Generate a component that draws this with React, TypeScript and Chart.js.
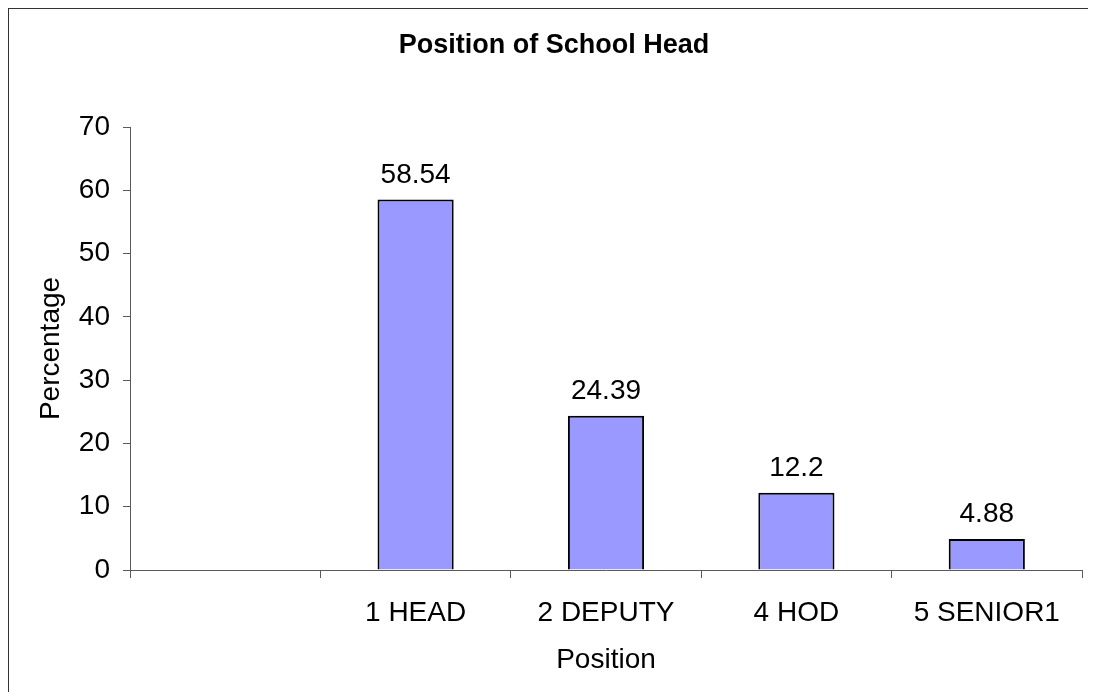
import React, { useEffect, useRef } from "react";
import { Chart, registerables } from "chart.js";

Chart.register(...registerables);

const categories: string[] = ["", "1 HEAD", "2 DEPUTY", "4 HOD", "5 SENIOR1"];
const percentages: (number | null)[] = [null, 58.54, 24.39, 12.2, 4.88];
const valueLabels: string[] = ["", "58.54", "24.39", "12.2", "4.88"];
const chartTitle = "Position of School Head";
const xTitle = "Position";
const yTitle = "Percentage";

const FONT = "'Liberation Sans', Arial, sans-serif";
const AXIS_COLOR = "#5a5a5a";
const TEXT_SIZE = 28;

const titlePlugin = {
  id: "customTitle",
  afterDraw(chart: any) {
    const ctx = chart.ctx;
    ctx.save();
    ctx.font = `bold 27px ${FONT}`;
    ctx.fillStyle = "#000";
    ctx.textAlign = "center";
    ctx.textBaseline = "alphabetic";
    ctx.fillText(chartTitle, 545, 43.5);
    ctx.restore();
  },
};

const valueLabelPlugin = {
  id: "valueLabels",
  afterDatasetsDraw(chart: any) {
    const ctx = chart.ctx;
    const meta = chart.getDatasetMeta(0);
    ctx.save();
    ctx.font = `${TEXT_SIZE}px ${FONT}`;
    ctx.fillStyle = "#000";
    ctx.textAlign = "center";
    ctx.textBaseline = "alphabetic";
    meta.data.forEach((bar: any, i: number) => {
      if (percentages[i] == null) return;
      ctx.fillText(valueLabels[i], bar.x, bar.y - 17);
    });
    ctx.restore();
  },
};

export default function App() {
  const canvasRef = useRef<HTMLCanvasElement | null>(null);

  useEffect(() => {
    if (!canvasRef.current) return;
    const chart = new Chart(canvasRef.current, {
      type: "bar",
      data: {
        labels: categories,
        datasets: [
          {
            data: percentages,
            backgroundColor: "#9999FF",
            borderColor: "#000000",
            borderWidth: 2,
            barPercentage: 0.4,
            categoryPercentage: 1,
          },
        ],
      },
      options: {
        animation: false,
        responsive: false,
        maintainAspectRatio: false,
        devicePixelRatio: 1,
        layout: { padding: { top: 118, right: 6, left: 0, bottom: 0 } },
        plugins: {
          legend: { display: false },
          tooltip: { enabled: false },
          title: { display: false },
        },
        scales: {
          x: {
            offset: true,
            grid: {
              display: true,
              drawOnChartArea: false,
              drawTicks: true,
              tickLength: 8,
              color: AXIS_COLOR,
              offset: true,
            },
            border: { display: true, color: AXIS_COLOR, width: 1 },
            ticks: {
              color: "#000",
              font: { family: FONT, size: TEXT_SIZE },
              padding: 18,
              maxRotation: 0,
              autoSkip: false,
            },
            title: {
              display: true,
              text: xTitle,
              color: "#000",
              font: { family: FONT, size: TEXT_SIZE },
              padding: { top: 0, bottom: 14.5 },
            },
            afterFit(scale: any) {
              scale.height = 122;
            },
          },
          y: {
            min: 0,
            max: 70,
            grid: {
              display: true,
              drawOnChartArea: false,
              drawTicks: true,
              tickLength: 7,
              color: AXIS_COLOR,
            },
            border: { display: true, color: AXIS_COLOR, width: 1 },
            ticks: {
              stepSize: 10,
              color: "#000",
              font: { family: FONT, size: TEXT_SIZE },
              padding: 13,
            },
            title: {
              display: true,
              text: yTitle,
              color: "#000",
              font: { family: FONT, size: TEXT_SIZE },
              padding: { top: 25, bottom: 0 },
            },
            afterFit(scale: any) {
              scale.width = 121;
            },
          },
        },
      },
      plugins: [titlePlugin, valueLabelPlugin],
    });
    return () => chart.destroy();
  }, []);

  return (
    <div
      style={{
        width: 1080,
        height: 684,
        borderTop: "1px solid #333",
        borderLeft: "1px solid #333",
        boxSizing: "border-box",
        background: "#fff",
      }}
    >
      <canvas ref={canvasRef} width={1079} height={683} style={{ display: "block" }} />
    </div>
  );
}
